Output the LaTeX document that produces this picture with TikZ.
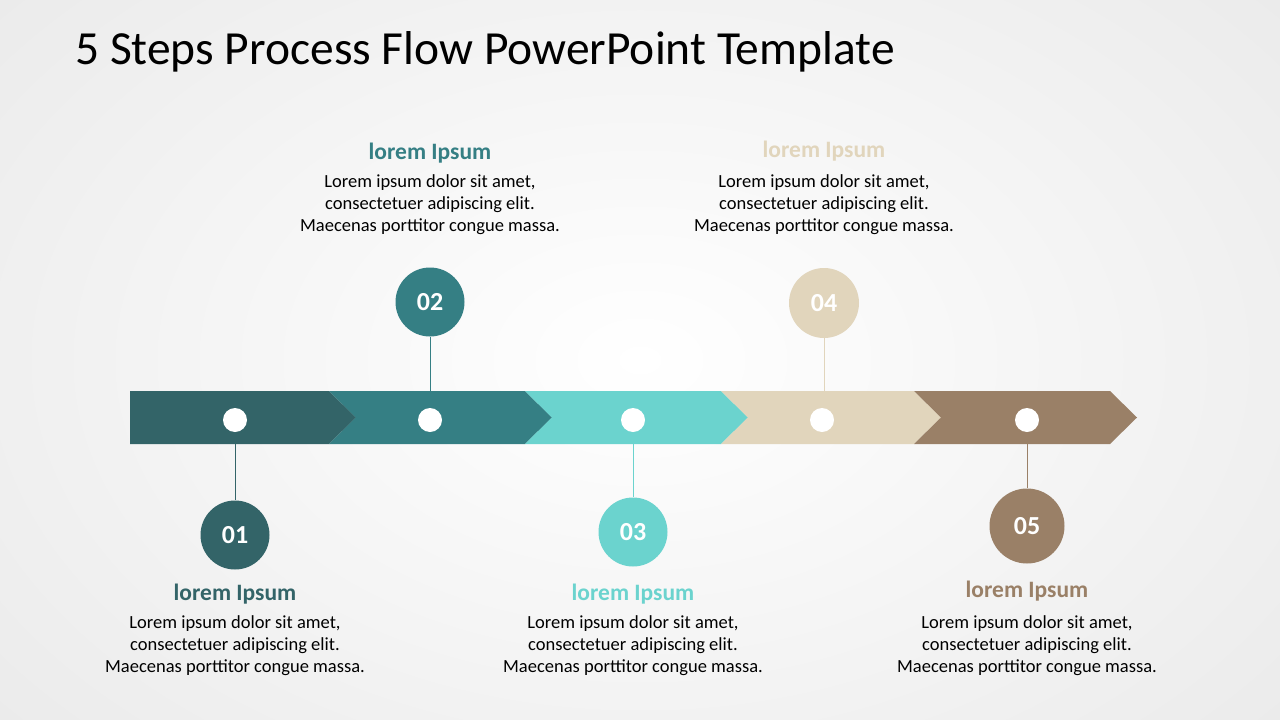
\documentclass[tikz,border=0pt]{standalone}
\usepackage{fontspec}
\setmainfont{Carlito}
\usepackage{xcolor}
\usetikzlibrary{positioning}
\definecolor{stepone}{HTML}{336468}
\definecolor{steptwo}{HTML}{357F84}
\definecolor{stepthree}{HTML}{6BD3CE}
\definecolor{stepfour}{HTML}{E1D5BC}
\definecolor{stepfive}{HTML}{9A8067}
\definecolor{bggray}{HTML}{EBEBEB}

\begin{document}
\begin{tikzpicture}[x=1pt, y=-1pt,
    num/.style={circle, minimum size=69pt, inner sep=0pt, text=white,
                font=\fontsize{26}{26}\selectfont\bfseries},
    dot/.style={circle, fill=white, minimum size=24pt, inner sep=0pt},
    head/.style={anchor=base, inner sep=0pt, font=\fontsize{23.5}{26}\selectfont\bfseries},
    body/.style={anchor=base, inner sep=0pt, align=center, font=\fontsize{18.5}{22}\selectfont}]

  % background
  \useasboundingbox (0,0) rectangle (1280,720);
  \shade[inner color=white, outer color=bggray] (-200,-200) rectangle (1480,920);

  \node[anchor=base west, inner sep=0pt, font=\fontsize{47.5}{54}\selectfont] (title) at (75,64)
    {5 Steps Process Flow PowerPoint Template};

  % chevron band
  \foreach \xa/\xb/\nd/\col in {130/329/0/stepone, 329/525/27/steptwo, 525/721/27/stepthree,
                                721/914/27/stepfour, 914/1110/27/stepfive}
    \fill[\col] (\xa,391) -- (\xb,391) -- (\xb+27,417.5) -- (\xb,444) -- (\xa,444)
                -- (\xa+\nd,417.5) -- cycle;

  % dots on the band
  \node[dot] (d1) at (235,420) {};
  \node[dot] (d2) at (430,420) {};
  \node[dot] (d3) at (633,420) {};
  \node[dot] (d4) at (822,420) {};
  \node[dot] (d5) at (1027,420) {};

  \coordinate (b1) at (235,444);
  \coordinate (b2) at (430,391);
  \coordinate (b3) at (633,444);
  \coordinate (b4) at (824,391);
  \coordinate (b5) at (1027,444);

  % numbered circles
  \node[num, fill=stepone] (c1) at (235,535) {01};
  \node[num, fill=steptwo] (c2) at (430,302) {02};
  \node[num, fill=stepthree] (c3) at (633,532) {03};
  \node[num, fill=stepfour, minimum size=70pt] (c4) at (824,303) {04};
  \node[num, fill=stepfive, minimum size=75pt] (c5) at (1027,526) {05};

  \draw[stepone] (b1) -- (c1.north);
  \draw[steptwo] (b2) -- (c2.south);
  \draw[stepthree] (b3) -- (c3.north);
  \draw[stepfour] (b4) -- (c4.south);
  \draw[stepfive] (b5) -- (c5.north);

  % texts (body is set on the baseline of its last line)
  \node[head, text=stepone] (h1) at (235,600) {lorem Ipsum};
  \node[body] (t1) at (235,672) {Lorem ipsum dolor sit amet,\\consectetuer adipiscing elit.\\Maecenas porttitor congue massa.};
  \node[head, text=steptwo] (h2) at (430,159) {lorem Ipsum};
  \node[body] (t2) at (430,231) {Lorem ipsum dolor sit amet,\\consectetuer adipiscing elit.\\Maecenas porttitor congue massa.};
  \node[head, text=stepthree] (h3) at (633,600) {lorem Ipsum};
  \node[body] (t3) at (633,672) {Lorem ipsum dolor sit amet,\\consectetuer adipiscing elit.\\Maecenas porttitor congue massa.};
  \node[head, text=stepfour] (h4) at (824,157) {lorem Ipsum};
  \node[body] (t4) at (824,231) {Lorem ipsum dolor sit amet,\\consectetuer adipiscing elit.\\Maecenas porttitor congue massa.};
  \node[head, text=stepfive] (h5) at (1027,597) {lorem Ipsum};
  \node[body] (t5) at (1027,672) {Lorem ipsum dolor sit amet,\\consectetuer adipiscing elit.\\Maecenas porttitor congue massa.};
\end{tikzpicture}
\end{document}
